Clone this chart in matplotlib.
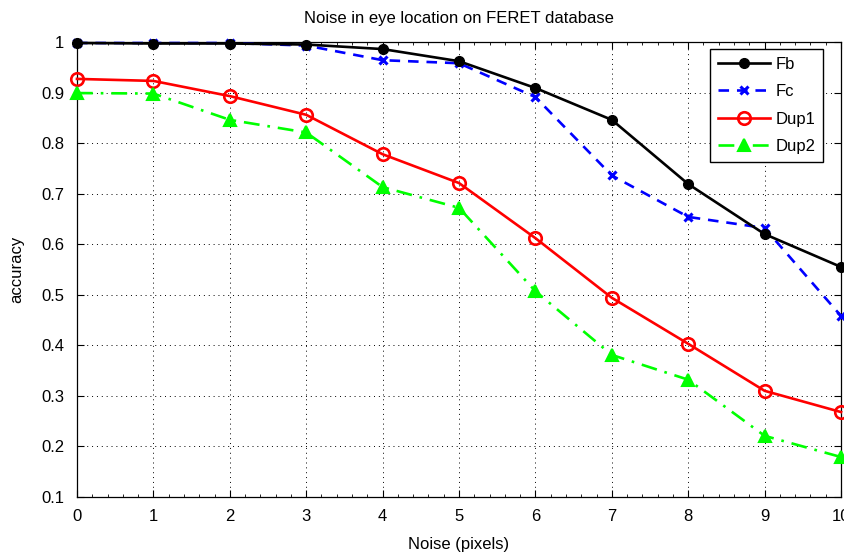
import matplotlib.pyplot as plt
from matplotlib.ticker import MultipleLocator

plt.rcParams['font.family'] = ['Liberation Sans', 'DejaVu Sans']

noise = [0, 1, 2, 3, 4, 5, 6, 7, 8, 9, 10]
fb = [0.998, 0.997, 0.997, 0.995, 0.986, 0.962, 0.909, 0.846, 0.719, 0.620, 0.555]
fc = [0.998, 0.998, 0.998, 0.993, 0.964, 0.958, 0.891, 0.736, 0.654, 0.632, 0.458]
dup1 = [0.927, 0.923, 0.893, 0.856, 0.778, 0.721, 0.612, 0.494, 0.403, 0.310, 0.268]
dup2 = [0.899, 0.898, 0.846, 0.821, 0.713, 0.672, 0.507, 0.381, 0.332, 0.221, 0.179]

fig = plt.figure(figsize=(8.45, 5.54), dpi=100)
ax = fig.add_axes([0.0911, 0.1029, 0.9042, 0.8213])

ax.plot(noise, fb, color='black', linestyle='-', linewidth=1.9,
        marker='o', markersize=7, markerfacecolor='black', label='Fb', clip_on=False, zorder=4)
ax.plot(noise, fc, color='blue', linestyle=(0, (4, 3)), linewidth=1.9,
        marker='x', markersize=6, markeredgewidth=2.2, label='Fc', clip_on=False, zorder=3)
ax.plot(noise, dup1, color='red', linestyle='-', linewidth=1.9,
        marker='o', markersize=9, markerfacecolor='none', markeredgewidth=1.9,
        label='Dup1', clip_on=False, zorder=3)
ax.plot(noise, dup2, color='#00ff00', linestyle=(0, (6, 3, 1, 3)), linewidth=1.9,
        marker='^', markersize=9, markerfacecolor='#00ff00', markeredgewidth=1.5,
        label='Dup2', clip_on=False, zorder=3)

ax.set_xlim(0, 10)
ax.set_ylim(0.1, 1.0)
ax.xaxis.set_major_locator(MultipleLocator(1))
ax.xaxis.set_minor_locator(MultipleLocator(0.2))
ax.set_yticks([0.1, 0.2, 0.3, 0.4, 0.5, 0.6, 0.7, 0.8, 0.9, 1.0])
ax.set_yticklabels(['0.1', '0.2', '0.3', '0.4', '0.5', '0.6', '0.7', '0.8', '0.9', '1'])
ax.tick_params(axis='both', which='both', direction='in', top=True, right=True,
               labelsize=12, color='black')
ax.tick_params(which='major', length=5, width=0.8)
ax.tick_params(which='minor', length=2.5, width=0.6)
ax.tick_params(axis='x', which='major', pad=9)
ax.tick_params(axis='y', which='major', pad=9)
ax.tick_params(axis='y', which='minor', left=False, right=False)

ax.grid(True, which='major', linestyle=(0, (1, 4)), color='black', linewidth=0.7)

for s in ax.spines.values():
    s.set_linewidth(0.9)

ax.set_xlabel('Noise (pixels)', fontsize=12, labelpad=9)
ax.set_ylabel('accuracy', fontsize=12, labelpad=12)
ax.set_title('Noise in eye location on FERET database', fontsize=12, pad=14)

leg = ax.legend(loc='upper right', bbox_to_anchor=(0.9764, 0.9846), borderaxespad=0,
                fontsize=12, fancybox=False, framealpha=1, edgecolor='black',
                handlelength=3.1, borderpad=0.45, labelspacing=0.75, handletextpad=0.35)
leg.get_frame().set_linewidth(1.0)

fig.savefig('out.png', dpi=100)
